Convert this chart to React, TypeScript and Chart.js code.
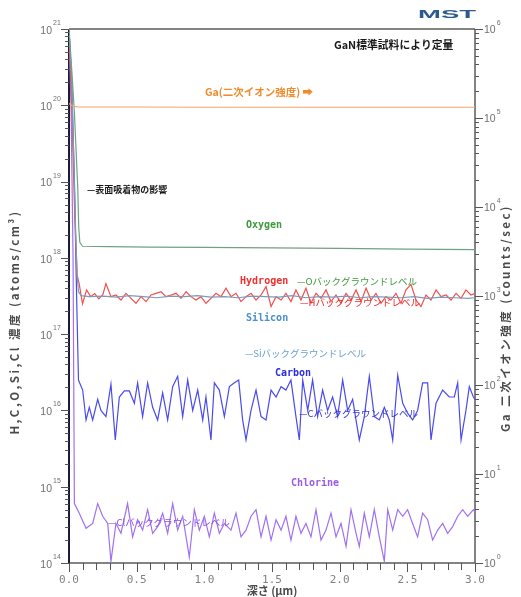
import React, { useEffect, useRef } from 'react';
import { Chart, registerables } from 'chart.js';

Chart.register(...registerables);

// ---------------- data ----------------
const leftExponents = [14, 15, 16, 17, 18, 19, 20, 21];
const rightExponents = [0, 1, 2, 3, 4, 5, 6];
const depthTickLabels = ['0.0', '0.5', '1.0', '1.5', '2.0', '2.5', '3.0'];

// [depth (um), Ga secondary ion counts/sec]
const galliumProfile: Array<[number, number]> = [
  [0, 1.45e5], [0.01, 1.42e5], [0.02, 1.38e5], [0.04, 1.35e5], [0.07, 1.33e5], [0.1, 1.33e5],
  [0.5, 1.33e5], [1.0, 1.32e5], [1.5, 1.32e5], [2.0, 1.32e5], [2.5, 1.32e5], [3.0, 1.32e5],
];

// [depth (um), atoms/cm3]
const oxygenProfile: Array<[number, number]> = [
  [0, 1e21], [0.02, 3e20], [0.04, 8e19], [0.055, 2e19], [0.065, 8e18], [0.072, 2.5e18],
  [0.08, 1.6e18], [0.1, 1.42e18], [0.3, 1.4e18], [0.6, 1.38e18], [1.0, 1.37e18],
  [1.5, 1.35e18], [2.0, 1.33e18], [2.5, 1.3e18], [3.0, 1.28e18],
];

const siliconProfile: Array<[number, number]> = [
  [0, 1e21], [0.02, 2e20], [0.035, 2e19], [0.05, 2e18], [0.06, 6e17], [0.07, 3.6e17], [0.09, 3.2e17],
  [0.15, 3.1e17], [0.25, 3.15e17], [0.35, 3.05e17], [0.45, 3.2e17], [0.55, 3.1e17], [0.65, 3.0e17],
  [0.75, 3.15e17], [0.85, 3.1e17], [0.95, 3.2e17], [1.05, 3.05e17], [1.15, 3.1e17], [1.25, 3.0e17],
  [1.35, 3.15e17], [1.45, 3.1e17], [1.55, 3.05e17], [1.65, 3.2e17], [1.75, 3.0e17], [1.85, 3.1e17],
  [1.95, 3.05e17], [2.05, 3.15e17], [2.15, 3.0e17], [2.25, 3.1e17], [2.35, 3.05e17], [2.45, 3.0e17],
  [2.55, 3.1e17], [2.65, 2.95e17], [2.75, 3.05e17], [2.85, 3.0e17], [2.95, 2.95e17], [3.0, 3.0e17],
];

const hydrogenProfile: Array<[number, number]> = [
  [0, 1e21], [0.02, 1e20], [0.04, 5e18], [0.06, 6e17], [0.075, 4.6e17], [0.1, 2.5e17],
  [0.13, 3.8e17], [0.16, 3.1e17], [0.19, 3.4e17], [0.22, 2.9e17], [0.25, 3.3e17],
  [0.273, 4.6e17], [0.31, 3.1e17], [0.347, 3.26e17], [0.384, 2.8e17], [0.421, 3.43e17],
  [0.458, 2.95e17], [0.495, 2.54e17], [0.532, 3.1e17], [0.569, 2.67e17], [0.606, 3.26e17],
  [0.643, 3.43e17], [0.68, 3.6e17], [0.717, 3.1e17], [0.754, 3.26e17], [0.791, 3.43e17],
  [0.828, 2.95e17], [0.865, 3.6e17], [0.901, 3.1e17], [0.938, 2.8e17], [0.975, 3.1e17],
  [1.012, 2.54e17], [1.049, 2.95e17], [1.086, 3.43e17], [1.123, 3.1e17], [1.16, 4.0e17],
  [1.197, 3.1e17], [1.234, 3.43e17], [1.271, 2.67e17], [1.308, 3.1e17], [1.345, 3.43e17],
  [1.382, 2.8e17], [1.419, 3.26e17], [1.456, 4.2e17], [1.493, 2.3e17], [1.53, 3.1e17],
  [1.567, 2.8e17], [1.603, 3.43e17], [1.64, 2.67e17], [1.677, 3.8e17], [1.714, 2.8e17],
  [1.751, 4.0e17], [1.788, 2.54e17], [1.825, 3.43e17], [1.862, 2.95e17], [1.899, 3.8e17],
  [1.936, 2.67e17], [1.973, 3.26e17], [2.01, 2.54e17], [2.047, 3.43e17], [2.084, 2.8e17],
  [2.121, 3.8e17], [2.158, 2.67e17], [2.195, 4.0e17], [2.232, 2.8e17], [2.268, 3.43e17],
  [2.305, 2.54e17], [2.342, 3.1e17], [2.379, 2.8e17], [2.416, 3.43e17], [2.453, 2.54e17],
  [2.49, 3.8e17], [2.527, 4.5e17], [2.564, 2.8e17], [2.601, 2.3e17], [2.638, 3.26e17],
  [2.675, 2.8e17], [2.712, 3.8e17], [2.749, 3.1e17], [2.786, 3.26e17], [2.823, 2.8e17],
  [2.86, 3.43e17], [2.897, 2.95e17], [2.933, 3.8e17], [2.97, 3.26e17], [3.0, 3.43e17],
];

const carbonProfile: Array<[number, number]> = [
  [0, 1e21], [0.02, 2e20], [0.04, 1e19], [0.055, 4e17], [0.07, 2.5e16], [0.101, 1.85e16],
  [0.126, 7.5e15], [0.15, 1.1e16], [0.175, 7.5e15], [0.212, 1.4e16], [0.236, 1.0e16],
  [0.273, 8.3e15], [0.31, 2.2e16], [0.342, 4.1e15], [0.372, 1.5e16], [0.409, 1.8e16],
  [0.446, 1.8e16], [0.483, 1.24e16], [0.507, 2.3e16], [0.544, 8.3e15], [0.581, 2.3e16],
  [0.618, 1.1e16], [0.655, 7.5e15], [0.692, 1.7e16], [0.729, 7.5e15], [0.766, 2.05e16],
  [0.803, 2.8e16], [0.84, 8.3e15], [0.877, 2.5e16], [0.914, 1.0e16], [0.951, 1.85e16],
  [0.988, 7.5e15], [1.012, 1.5e16], [1.049, 4.1e15], [1.074, 2.3e16], [1.111, 1.85e16],
  [1.148, 8.3e15], [1.185, 2.05e16], [1.222, 2.3e16], [1.254, 2.5e16], [1.283, 7.5e15],
  [1.308, 4.1e15], [1.345, 1.0e16], [1.382, 1.85e16], [1.419, 8.3e15], [1.456, 7.5e15],
  [1.493, 1.85e16], [1.53, 1.5e16], [1.567, 2.05e16], [1.603, 1.85e16], [1.64, 2.5e16],
  [1.677, 8.3e15], [1.702, 4.1e15], [1.727, 2.5e16], [1.764, 1.0e16], [1.8, 2.5e16],
  [1.837, 8.3e15], [1.874, 1.85e16], [1.911, 1.0e16], [1.948, 1.5e16], [1.985, 8.3e15],
  [2.022, 2.5e16], [2.059, 1.0e16], [2.096, 1.4e16], [2.145, 4.1e15], [2.182, 8.3e15],
  [2.219, 2.8e16], [2.256, 8.3e15], [2.293, 7.5e15], [2.33, 1.1e16], [2.367, 7.5e15],
  [2.392, 4.1e15], [2.429, 2.9e16], [2.466, 1.24e16], [2.502, 9.2e15], [2.539, 7.5e15],
  [2.576, 1.0e16], [2.613, 2.3e16], [2.65, 2.3e16], [2.675, 4.1e15], [2.712, 1.24e16],
  [2.761, 1.85e16], [2.81, 1.5e16], [2.847, 1.5e16], [2.872, 2.3e16], [2.897, 4.1e15],
  [2.933, 1.0e16], [2.958, 2.05e16], [2.988, 1.5e16], [3.0, 1.4e16],
];

const chlorineProfile: Array<[number, number]> = [
  [0, 1e21], [0.015, 1e20], [0.03, 1e18], [0.04, 6.0e14], [0.076, 4.5e14], [0.126, 2.85e14],
  [0.175, 3.3e14], [0.212, 6.0e14], [0.249, 4.1e14], [0.286, 3.3e14], [0.31, 1.05e14],
  [0.347, 3.3e14], [0.384, 2.45e14], [0.433, 6.0e14], [0.47, 2.2e14], [0.507, 3.7e14],
  [0.544, 2.7e14], [0.581, 5.0e14], [0.618, 2.45e14], [0.655, 3.0e14], [0.692, 4.5e14],
  [0.729, 2.45e14], [0.766, 6.0e14], [0.803, 2.7e14], [0.84, 4.1e14], [0.889, 1.2e14],
  [0.926, 5.0e14], [0.963, 2.7e14], [1.0, 4.1e14], [1.037, 2.2e14], [1.074, 4.5e14],
  [1.111, 2.45e14], [1.148, 3.3e14], [1.197, 2.7e14], [1.234, 4.5e14], [1.271, 2.2e14],
  [1.308, 2.7e14], [1.345, 4.1e14], [1.382, 5.0e14], [1.419, 2.2e14], [1.456, 4.1e14],
  [1.493, 2.0e14], [1.53, 3.7e14], [1.567, 2.7e14], [1.603, 4.1e14], [1.64, 2.0e14],
  [1.677, 4.1e14], [1.714, 2.45e14], [1.751, 3.3e14], [1.788, 2.2e14], [1.825, 5.0e14],
  [1.862, 2.0e14], [1.899, 2.7e14], [1.936, 4.5e14], [1.973, 2.2e14], [2.01, 3.3e14],
  [2.047, 1.65e14], [2.084, 5.0e14], [2.121, 2.45e14], [2.145, 1.65e14], [2.182, 4.5e14],
  [2.219, 2.2e14], [2.256, 5.0e14], [2.293, 2.2e14], [2.33, 1.05e14], [2.355, 5.0e14],
  [2.392, 2.7e14], [2.429, 5.0e14], [2.466, 4.1e14], [2.502, 5.0e14], [2.539, 3.3e14],
  [2.576, 2.2e14], [2.613, 4.5e14], [2.65, 3.7e14], [2.687, 2.0e14], [2.724, 2.7e14],
  [2.761, 3.3e14], [2.798, 2.45e14], [2.835, 3.0e14], [2.872, 4.1e14], [2.909, 5.0e14],
  [2.946, 4.1e14], [2.988, 5.0e14], [3.0, 4.6e14],
];

// ---------------- presentation ----------------
const FONT_CJK = "'Noto Sans CJK JP', 'DejaVu Sans', sans-serif";
const FONT_MONO = "'DejaVu Sans Mono', monospace";
const FONT_SANS = "'Liberation Sans', 'DejaVu Sans', sans-serif";

type Note = { text: string; depth: number; conc: number; color: string; font: string };
const notes: Note[] = [
  { text: 'GaN標準試料により定量', depth: 1.958, conc: 6.2e20, color: '#1a1a1a', font: `bold 10.8px ${FONT_CJK}` },
  { text: 'Ga(二次イオン強度) ➡', depth: 1.005, conc: 1.49e20, color: '#f08a2a', font: `bold 10.5px ${FONT_CJK}` },
  { text: '—表面吸着物の影響', depth: 0.133, conc: 7.8e18, color: '#1a1a1a', font: `bold 9px ${FONT_CJK}` },
  { text: 'Oxygen', depth: 1.308, conc: 2.7e18, color: '#3d9a3d', font: `bold 10px ${FONT_MONO}` },
  { text: 'Hydrogen', depth: 1.264, conc: 4.98e17, color: '#ee3030', font: `bold 10px ${FONT_MONO}` },
  { text: '—Oバックグラウンドレベル', depth: 1.685, conc: 4.98e17, color: '#3d9a3d', font: `9.5px ${FONT_CJK}` },
  { text: '—Hバックグラウンドレベル', depth: 1.707, conc: 2.64e17, color: '#ee2a2a', font: `9.5px ${FONT_CJK}` },
  { text: 'Silicon', depth: 1.308, conc: 1.63e17, color: '#4a8fd0', font: `bold 10px ${FONT_MONO}` },
  { text: '—Siバックグラウンドレベル', depth: 1.3, conc: 5.66e16, color: '#6a9fd0', font: `9.5px ${FONT_CJK}` },
  { text: 'Carbon', depth: 1.522, conc: 3.1e16, color: '#2c2ce0', font: `bold 10px ${FONT_MONO}` },
  { text: '—Cバックグラウンドレベル', depth: 1.7, conc: 9.25e15, color: '#3434d8', font: `9.5px ${FONT_CJK}` },
  { text: 'Chlorine', depth: 1.64, conc: 1.12e15, color: '#9a5ae8', font: `bold 10px ${FONT_MONO}` },
  { text: '—Clバックグラウンドレベル', depth: 0.288, conc: 3.44e14, color: '#9050e0', font: `9.5px ${FONT_CJK}` },
];

const toPoints = (p: Array<[number, number]>) => p.map(([x, y]) => ({ x, y }));

function line(ctx: CanvasRenderingContext2D, x1: number, y1: number, x2: number, y2: number) {
  ctx.beginPath();
  ctx.moveTo(x1, y1);
  ctx.lineTo(x2, y2);
  ctx.stroke();
}

function drawPow(ctx: CanvasRenderingContext2D, x: number, y: number, exp: number, side: 'left' | 'right') {
  ctx.fillStyle = '#707070';
  ctx.textBaseline = 'middle';
  ctx.font = `10.5px ${FONT_SANS}`;
  if (side === 'left') {
    ctx.textAlign = 'right';
    ctx.fillText('10', x, y + 2);
    ctx.font = `7px ${FONT_SANS}`;
    ctx.textAlign = 'left';
    ctx.fillText(String(exp), x + 1, y - 6);
  } else {
    ctx.textAlign = 'left';
    ctx.fillText('10', x, y + 1);
    const w = ctx.measureText('10').width;
    ctx.font = `7px ${FONT_SANS}`;
    ctx.fillText(String(exp), x + w + 1, y - 6);
  }
}

const decorPlugin = {
  id: 'decor',
  beforeDatasetsDraw(chart: any) {
    const { ctx, chartArea: a } = chart;
    const xs = chart.scales.x;
    const yl = chart.scales.y;
    const yr = chart.scales.y2;
    ctx.save();
    // frame
    ctx.lineWidth = 1.5;
    ctx.strokeStyle = '#5a5a5a';
    line(ctx, a.left, a.top, a.right, a.top);
    line(ctx, a.right, a.top, a.right, a.bottom);
    line(ctx, a.left, a.bottom, a.right, a.bottom);
    ctx.strokeStyle = '#1c1c3a';
    ctx.lineWidth = 2;
    line(ctx, a.left, a.top, a.left, a.bottom);

    ctx.lineWidth = 1;
    ctx.strokeStyle = '#555';
    // left ticks
    for (const e of leftExponents) {
      for (let m = 1; m <= 9; m++) {
        const v = m * Math.pow(10, e);
        if (v > yl.max * 1.0001) break;
        const py = Math.round(yl.getPixelForValue(v)) + 0.5;
        const len = m === 1 ? 8 : 4;
        line(ctx, a.left - len, py, a.left, py);
      }
    }
    // right ticks
    for (const e of rightExponents) {
      for (let m = 1; m <= 9; m++) {
        const v = m * Math.pow(10, e);
        if (v > yr.max * 1.0001) break;
        const py = Math.round(yr.getPixelForValue(v)) + 0.5;
        const len = m === 1 ? 8 : 4;
        line(ctx, a.right, py, a.right + len, py);
      }
    }
    // bottom ticks
    for (let k = 0; k <= 30; k++) {
      const px = Math.round(xs.getPixelForValue(k / 10)) + 0.5;
      const len = k % 5 === 0 ? 9 : 7;
      line(ctx, px, a.bottom, px, a.bottom + len);
    }

    // tick labels
    for (const e of leftExponents) drawPow(ctx, a.left - 17, yl.getPixelForValue(Math.pow(10, e)), e, 'left');
    for (const e of rightExponents) drawPow(ctx, a.right + 9, yr.getPixelForValue(Math.pow(10, e)), e, 'right');
    ctx.fillStyle = '#808080';
    ctx.font = `11px ${FONT_MONO}`;
    ctx.textAlign = 'center';
    ctx.textBaseline = 'middle';
    for (const lab of depthTickLabels) {
      ctx.fillText(lab, xs.getPixelForValue(parseFloat(lab)), a.bottom + 17);
    }

    // axis titles
    ctx.fillStyle = '#4a4a4a';
    ctx.font = `bold 11.5px ${FONT_CJK}`;
    ctx.save();
    ctx.translate(a.left - 54, 322);
    ctx.rotate(-Math.PI / 2);
    ctx.textAlign = 'center';
    (ctx as any).letterSpacing = '2.5px';
    ctx.fillText('H,C,O,Si,Cl 濃度 (atoms/cm³)', 0, 0);
    ctx.restore();

    ctx.save();
    ctx.translate(a.right + 31, 318);
    ctx.rotate(-Math.PI / 2);
    ctx.textAlign = 'center';
    (ctx as any).letterSpacing = '2.5px';
    ctx.fillText('Ga 二次イオン強度 (counts/sec)', 0, 0);
    ctx.restore();

    ctx.font = `bold 11px ${FONT_CJK}`;
    ctx.textAlign = 'center';
    ctx.fillText('深さ (μm)', xs.getPixelForValue(1.5), a.bottom + 28);

    // logo
    ctx.save();
    ctx.fillStyle = '#2d5a8c';
    ctx.font = `bold 11px ${FONT_SANS}`;
    const w = ctx.measureText('MST').width;
    ctx.translate(a.right - 57, a.top - 14);
    ctx.scale(58 / w, 1);
    ctx.textAlign = 'left';
    ctx.textBaseline = 'middle';
    ctx.fillText('MST', 0, 0);
    ctx.restore();

    ctx.restore();
  },
  afterDatasetsDraw(chart: any) {
    const { ctx } = chart;
    const xs = chart.scales.x;
    const yl = chart.scales.y;
    ctx.save();
    ctx.textAlign = 'left';
    ctx.textBaseline = 'middle';
    for (const n of notes) {
      ctx.font = n.font;
      ctx.fillStyle = n.color;
      ctx.fillText(n.text, xs.getPixelForValue(n.depth), yl.getPixelForValue(n.conc));
    }
    ctx.restore();
  },
};

export default function App() {
  const ref = useRef<HTMLCanvasElement | null>(null);
  useEffect(() => {
    if (!ref.current) return;
    const mk = (label: string, data: Array<[number, number]>, color: string, axis: string) => ({
      label,
      data: toPoints(data),
      borderColor: color,
      backgroundColor: color,
      borderWidth: 1.2,
      pointRadius: 0,
      tension: 0,
      yAxisID: axis,
    });
    const chart = new Chart(ref.current, {
      type: 'line',
      data: {
        datasets: [
          mk('Ga', galliumProfile, '#f5a46c', 'y2'),
          mk('Oxygen', oxygenProfile, '#6fa284', 'y'),
          mk('Silicon', siliconProfile, '#7a9cb8', 'y'),
          mk('Hydrogen', hydrogenProfile, '#f05050', 'y'),
          mk('Carbon', carbonProfile, '#4a4aee', 'y'),
          mk('Chlorine', chlorineProfile, '#a070f0', 'y'),
        ] as any,
      },
      options: {
        animation: false,
        responsive: true,
        maintainAspectRatio: false,
        layout: { padding: { left: 69, right: 46, top: 29, bottom: 34 } },
        plugins: { legend: { display: false }, tooltip: { enabled: false } },
        scales: {
          x: { type: 'linear', min: 0, max: 3, display: false },
          y: { type: 'logarithmic', min: 1e14, max: 1e21, display: false },
          y2: { type: 'logarithmic', min: 1, max: 1e6, display: false, position: 'right' },
        },
      },
      plugins: [decorPlugin],
    });
    return () => chart.destroy();
  }, []);
  return (
    <div style={{ position: 'fixed', left: 0, top: 0, width: 521, height: 597, background: '#fff' }}>
      <canvas ref={ref} />
    </div>
  );
}
